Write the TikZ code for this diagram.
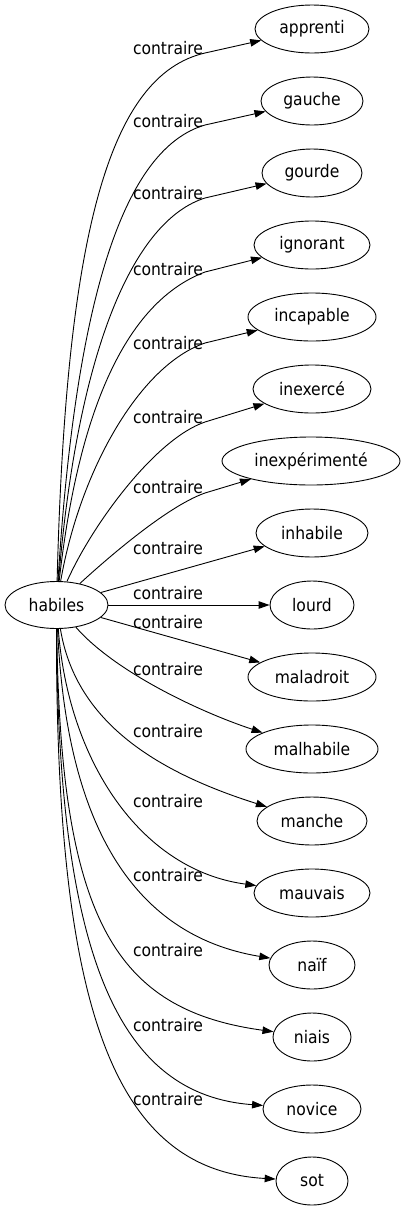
\documentclass[tikz,border=0pt]{standalone}
\usepackage{fontspec}
\setmainfont{DejaVu Sans Condensed}
\usetikzlibrary{shapes.geometric,arrows.meta}
\begin{document}
\begin{tikzpicture}[x=1pt,y=-1pt,
  font=\fontsize{17.3}{20}\selectfont,
  word/.style={ellipse,draw,line width=0.9pt,minimum height=48pt,inner sep=0pt},
  rel/.style={-{Triangle[length=11pt,width=7.5pt]},line width=0.9pt},
  lab/.style={inner sep=0pt}]
\useasboundingbox (0,0) rectangle (408,1211);
% nodes
\node[word,minimum width=103pt,minimum height=47pt] (h) at (56.5,605) {habiles};
\node[word,minimum width=114pt] (n1) at (312,29) {apprenti};
\node[word,minimum width=102pt] (n2) at (312,101) {gauche};
\node[word,minimum width=100pt] (n3) at (312,173) {gourde};
\node[word,minimum width=116pt] (n4) at (312,245) {ignorant};
\node[word,minimum width=128pt] (n5) at (312,317) {incapable};
\node[word,minimum width=118pt] (n6) at (312,389) {inexercé};
\node[word,minimum width=178pt] (n7) at (311,461) {inexpérimenté};
\node[word,minimum width=112pt] (n8) at (312,533) {inhabile};
\node[word,minimum width=84pt] (n9) at (312,605) {lourd};
\node[word,minimum width=128pt] (n10) at (312,677) {maladroit};
\node[word,minimum width=132pt] (n11) at (312,749) {malhabile};
\node[word,minimum width=110pt] (n12) at (312,821) {manche};
\node[word,minimum width=116pt] (n13) at (312,893) {mauvais};
\node[word,minimum width=86pt] (n14) at (312,965) {naïf};
\node[word,minimum width=78pt] (n15) at (312,1037) {niais};
\node[word,minimum width=98pt] (n16) at (312,1109) {novice};
\node[word,minimum width=72pt] (n17) at (312,1181) {sot};
% labels
\node[lab] (l1) at (168,48) {contraire};
\node[lab] (l2) at (168,121) {contraire};
\node[lab] (l3) at (168,193) {contraire};
\node[lab] (l4) at (168,269) {contraire};
\node[lab] (l5) at (168,343) {contraire};
\node[lab] (l6) at (168,417) {contraire};
\node[lab] (l7) at (168,487) {contraire};
\node[lab] (l8) at (168,548) {contraire};
\node[lab] (l9) at (168,593) {contraire};
\node[lab] (l10) at (168,622) {contraire};
\node[lab] (l11) at (168,669) {contraire};
\node[lab] (l12) at (168,731) {contraire};
\node[lab] (l13) at (168,801) {contraire};
\node[lab] (l14) at (168,875) {contraire};
\node[lab] (l15) at (168,950) {contraire};
\node[lab] (l16) at (168,1025) {contraire};
\node[lab] (l17) at (168,1099) {contraire};
% pass points of the upper edges
\coordinate (p1) at (205,53);
\coordinate (p2) at (205,125);
\coordinate (p3) at (205,198);
\coordinate (p4) at (205,272);
\coordinate (p5) at (205,343);
\coordinate (p6) at (205,422);
\coordinate (p7) at (205,493);
% edges
\draw[rel] (h) .. controls (66,230) and (110,75) .. (p1) -- (n1);
\draw[rel] (h) .. controls (76,290) and (126,148) .. (p2) -- (n2);
\draw[rel] (h) .. controls (78,345) and (135,220) .. (p3) -- (n3);
\draw[rel] (h) .. controls (76,430) and (118,305) .. (p4) -- (n4);
\draw[rel] (h) .. controls (80,470) and (140,365) .. (p5) -- (n5);
\draw[rel] (h) .. controls (92,525) and (155,439) .. (p6) -- (n6);
\draw[rel] (h) .. controls (100,565) and (165,507) .. (p7) -- (n7);
\draw[rel] (h) -- (n8);
\draw[rel] (h) -- (n9);
\draw[rel] (h) -- (n10);
\draw[rel] (h) .. controls (115,672) and (200,712) .. (n11);
\draw[rel] (h) .. controls (75,718) and (150,770) .. (n12);
\draw[rel] (h) .. controls (68,760) and (140,870) .. (n13);
\draw[rel] (h) .. controls (66,820) and (130,935) .. (n14);
\draw[rel] (h) .. controls (60,920) and (115,1010) .. (n15);
\draw[rel] (h) .. controls (58,960) and (120,1095) .. (n16);
\draw[rel] (h) .. controls (56,1000) and (110,1170) .. (n17);
\end{tikzpicture}
\end{document}
